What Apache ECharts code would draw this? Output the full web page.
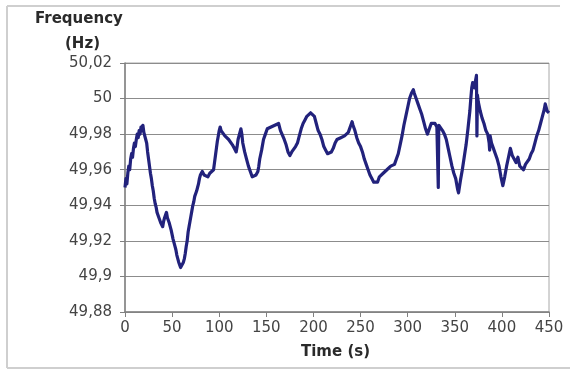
<!DOCTYPE html>
<html>
<head>
<meta charset="utf-8">
<script src="https://cdn.jsdelivr.net/npm/echarts@6/dist/echarts.min.js"></script>
<style>
  html, body { margin: 0; padding: 0; background: #ffffff; }
  #chart { width: 570px; height: 370px; }
</style>
</head>
<body>
<div id="chart"></div>
<script>
// Grid frequency record: time (s) and measured frequency (Hz)
const timeSec = [
  0, 1, 2, 3, 4, 5, 6, 7, 8, 9, 10, 11, 12, 13, 14, 15, 16, 17, 18, 19,
  20, 21, 22, 23, 24, 25, 26, 27, 28, 29, 30, 31, 32, 33, 34, 35, 36, 37, 38, 39,
  40, 41, 42, 43, 44, 45, 46, 47, 48, 49, 50, 51, 52, 53, 54, 55, 56, 57, 58, 59,
  60, 61, 62, 63, 64, 65, 66, 67, 68, 69, 70, 71, 72, 73, 74, 75, 76, 77, 78, 79,
  80, 82, 84, 86, 88, 90, 92, 94, 95, 96, 97, 98, 99, 100, 101, 102, 104, 106, 108, 110,
  112, 114, 116, 118, 119, 120, 122, 123, 124, 125, 127, 129, 131, 133, 135, 137, 139, 141, 142, 143,
  145, 147, 149, 151, 153, 155, 157, 159, 161, 163, 165, 167, 169, 171, 173, 175, 177, 179, 181, 183,
  185, 187, 189, 191, 193, 195, 197, 199, 201, 203, 205, 207, 209, 211, 213, 215, 217, 219, 221, 223,
  225, 227, 229, 231, 233, 235, 237, 239, 241, 242, 244, 246, 248, 250, 252, 254, 256, 258, 260, 262,
  264, 266, 268, 270, 272, 274, 276, 278, 280, 282, 284, 286, 288, 290, 292, 294, 296, 298, 300, 302,
  304, 306, 307, 309, 311, 313, 315, 317, 319, 321, 323, 325, 327, 329, 331, 332, 332.5, 333, 335, 337,
  339, 341, 343, 345, 347, 349, 351, 353, 354, 356, 358, 360, 362, 364, 366, 367, 368, 369, 370, 371,
  372, 373, 373.5, 374, 375, 377, 379, 381, 383, 385, 386.5, 387, 387.5, 389, 391, 393, 395, 397, 399, 401,
  403, 405, 407, 409, 411, 413, 415, 417, 419, 421, 423, 425, 427, 429, 431, 433, 435, 437, 439, 441,
  443, 445, 446, 447, 448, 450
];

const freqHz = [
  49.950, 49.955, 49.952, 49.958, 49.962, 49.960, 49.966, 49.969, 49.967, 49.972, 49.975, 49.973, 49.977, 49.980, 49.978, 49.982, 49.980, 49.984, 49.982, 49.985,
  49.981, 49.982, 49.977, 49.975, 49.970, 49.966, 49.962, 49.958, 49.955, 49.951, 49.948, 49.944, 49.941, 49.939, 49.936, 49.937, 49.933, 49.934, 49.930, 49.931,
  49.928, 49.931, 49.933, 49.934, 49.936, 49.933, 49.934, 49.930, 49.930, 49.926, 49.925, 49.921, 49.920, 49.917, 49.915, 49.912, 49.911, 49.908, 49.907, 49.905,
  49.906, 49.904, 49.908, 49.910, 49.913, 49.917, 49.920, 49.925, 49.928, 49.931, 49.934, 49.937, 49.940, 49.942, 49.945, 49.946, 49.948, 49.950, 49.952, 49.955,
  49.957, 49.959, 49.957, 49.958, 49.956, 49.958, 49.957, 49.960, 49.964, 49.968, 49.972, 49.976, 49.979, 49.982, 49.984, 49.982, 49.983, 49.979, 49.980, 49.977,
  49.978, 49.974, 49.972, 49.970, 49.973, 49.977, 49.981, 49.983, 49.980, 49.975, 49.970, 49.966, 49.962, 49.959, 49.956, 49.955, 49.957, 49.959, 49.962, 49.966,
  49.971, 49.977, 49.980, 49.983, 49.982, 49.984, 49.983, 49.985, 49.984, 49.986, 49.982, 49.981, 49.977, 49.974, 49.970, 49.968, 49.970, 49.971, 49.973, 49.975,
  49.979, 49.983, 49.986, 49.988, 49.990, 49.989, 49.992, 49.991, 49.990, 49.986, 49.982, 49.980, 49.977, 49.973, 49.971, 49.969, 49.968, 49.970, 49.972, 49.975,
  49.977, 49.976, 49.978, 49.977, 49.979, 49.980, 49.981, 49.984, 49.987, 49.985, 49.982, 49.978, 49.975, 49.973, 49.970, 49.966, 49.963, 49.960, 49.957, 49.955,
  49.953, 49.952, 49.953, 49.956, 49.955, 49.958, 49.957, 49.960, 49.959, 49.962, 49.961, 49.963, 49.966, 49.969, 49.974, 49.979, 49.985, 49.990, 49.995, 50.000,
  50.003, 50.005, 50.003, 50.000, 49.997, 49.994, 49.991, 49.987, 49.983, 49.980, 49.983, 49.986, 49.985, 49.986, 49.984, 49.985, 49.950, 49.985, 49.984, 49.982,
  49.980, 49.977, 49.972, 49.967, 49.962, 49.958, 49.955, 49.949, 49.947, 49.954, 49.960, 49.967, 49.974, 49.983, 49.993, 50.000, 50.006, 50.009, 50.008, 50.006,
  50.010, 50.013, 49.979, 50.002, 49.998, 49.993, 49.989, 49.986, 49.982, 49.980, 49.975, 49.971, 49.979, 49.975, 49.972, 49.969, 49.966, 49.962, 49.956, 49.951,
  49.956, 49.962, 49.967, 49.972, 49.968, 49.966, 49.964, 49.967, 49.962, 49.963, 49.960, 49.963, 49.964, 49.966, 49.969, 49.971, 49.975, 49.979, 49.982, 49.986,
  49.990, 49.994, 49.997, 49.995, 49.993, 49.992
];

const yAxisTitle = ['Frequency', '(Hz)'];
const xAxisTitle = 'Time (s)';

const points = timeSec.map((t, i) => [t, freqHz[i]]);

// Decimal comma, trailing zeros dropped (49,9 / 50 / 50,02)
function commaLabel(v) {
  return String(+v.toFixed(2)).replace('.', ',');
}

const chart = echarts.init(document.getElementById('chart'), null, { renderer: 'canvas' });

const labelFont = { fontFamily: 'DejaVu Sans', fontSize: 15, color: '#444444' };
const titleFont = { fontFamily: 'DejaVu Sans', fontSize: 15, fontWeight: 'bold', fill: '#2a2a2a' };

chart.setOption({
  animation: false,
  backgroundColor: '#ffffff',
  grid: { left: 125, top: 63, right: 21, bottom: 58, show: true, borderColor: '#a8a8a8', borderWidth: 1 },
  xAxis: {
    type: 'value',
    min: 0,
    max: 450,
    interval: 50,
    axisLine: { show: true, lineStyle: { color: '#808080', width: 1.5 } },
    axisTick: { show: true, length: 5, inside: false, lineStyle: { color: '#808080' } },
    axisLabel: Object.assign({ margin: 9 }, labelFont),
    splitLine: { show: false }
  },
  yAxis: {
    type: 'value',
    min: 49.88,
    max: 50.02,
    interval: 0.02,
    axisLine: { show: true, lineStyle: { color: '#808080', width: 1.5 } },
    axisTick: { show: true, length: 5, inside: false, lineStyle: { color: '#808080' } },
    axisLabel: Object.assign({ margin: 13, formatter: commaLabel }, labelFont),
    splitLine: { show: true, lineStyle: { color: '#8c8c8c', width: 1 } }
  },
  series: [{
    type: 'line',
    data: points,
    showSymbol: false,
    symbol: 'none',
    lineStyle: { color: '#22227c', width: 3.2, join: 'round' }
  }],
  graphic: [
    // light outer frame
    { type: 'line', shape: { x1: 7, y1: 6, x2: 560, y2: 6 }, style: { stroke: '#cfcfcf', lineWidth: 2 } },
    { type: 'line', shape: { x1: 7, y1: 6, x2: 7, y2: 368 }, style: { stroke: '#cfcfcf', lineWidth: 2 } },
    { type: 'line', shape: { x1: 7, y1: 368, x2: 570, y2: 368 }, style: { stroke: '#cfcfcf', lineWidth: 2 } },
    { type: 'text', left: 35, top: 12, style: Object.assign({ text: yAxisTitle[0] }, titleFont) },
    { type: 'text', left: 65, top: 37, style: Object.assign({ text: yAxisTitle[1] }, titleFont) },
    { type: 'text', left: 301, top: 345, style: Object.assign({ text: xAxisTitle }, titleFont) }
  ]
});
</script>
</body>
</html>
